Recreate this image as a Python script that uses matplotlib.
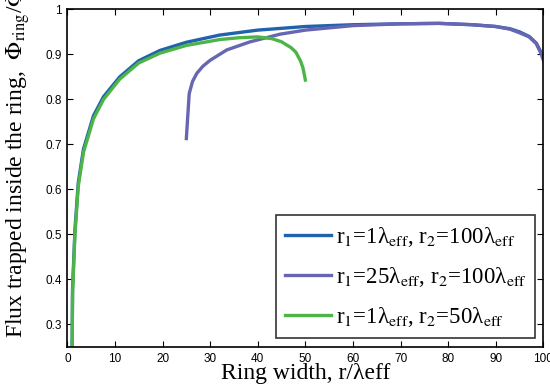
import matplotlib
matplotlib.use("Agg")
import matplotlib.pyplot as plt
from matplotlib.ticker import FuncFormatter

plt.rcParams["mathtext.fontset"] = "stix"
plt.rcParams["font.family"] = ["Liberation Serif", "DejaVu Serif"]

# r1 = 1, r2 = 100
x_blue = [1, 1.1, 1.6, 2.3, 3.4, 5.5, 7.6, 11, 15, 19.5, 25, 32, 40,
          50, 60, 70, 78, 85, 90, 93, 95, 97, 98.5, 99.5, 100]
y_blue = [0.23, 0.38, 0.51, 0.615, 0.69, 0.764, 0.806, 0.85, 0.886, 0.909,
          0.927, 0.943, 0.954, 0.962, 0.966, 0.968, 0.969, 0.966,
          0.962, 0.957, 0.95, 0.94, 0.925, 0.905, 0.89]

# r1 = 25, r2 = 100
x_purple = [25, 25.6, 26.3, 27.2, 28.5, 30, 33.5, 38.4, 44.7, 50, 60, 70, 78,
            85, 90, 93, 95, 97, 98.5, 99.5, 100]
y_purple = [0.713, 0.813, 0.84, 0.858, 0.874, 0.887, 0.91, 0.928, 0.945, 0.954,
            0.964, 0.968, 0.969, 0.966, 0.962, 0.956, 0.948, 0.939, 0.924,
            0.902, 0.887]

# r1 = 1, r2 = 50
x_green = [1, 1.1, 1.6, 2.3, 3.4, 5.5, 7.6, 11, 15, 19.5, 25, 32, 36, 40, 43,
           45, 47, 48, 49, 49.5, 50]
y_green = [0.23, 0.37, 0.50, 0.607, 0.683, 0.757, 0.8, 0.845, 0.881, 0.903,
           0.92, 0.933, 0.937, 0.939, 0.935, 0.928, 0.915, 0.905, 0.885, 0.87,
           0.843]

labels = [r"r$_1$=1λ$_{\rm eff}$, r$_2$=100λ$_{\rm eff}$",
          r"r$_1$=25λ$_{\rm eff}$, r$_2$=100λ$_{\rm eff}$",
          r"r$_1$=1λ$_{\rm eff}$, r$_2$=50λ$_{\rm eff}$"]
colors = ["#2162AF", "#6666B2", "#4DB548"]

fig = plt.figure(figsize=(5.5, 3.92), dpi=100)
ax = fig.add_axes([0.1224, 0.1148, 0.8656, 0.8612])

ax.plot(x_blue, y_blue, color=colors[0], lw=2.4, label=labels[0])
ax.plot(x_purple, y_purple, color=colors[1], lw=2.4, label=labels[1])
ax.plot(x_green, y_green, color=colors[2], lw=2.4, label=labels[2])

ax.set_xlim(0, 100)
ax.set_ylim(0.25, 1)
ax.set_xticks(range(0, 101, 10))
ax.set_yticks([0.3, 0.4, 0.5, 0.6, 0.7, 0.8, 0.9, 1.0])
ax.yaxis.set_major_formatter(FuncFormatter(lambda v, p: "%g" % v))
ax.tick_params(direction="in", length=4, width=0.8, top=True, right=True,
               labelsize=8.5, pad=4)
for lab in ax.get_xticklabels() + ax.get_yticklabels():
    lab.set_family("Liberation Sans")
for s in ax.spines.values():
    s.set_linewidth(1.2)

ax.set_xlabel("Ring width, r/λeff", fontsize=17, labelpad=-1)
ax.set_ylabel(r"Flux trapped inside the ring,  $\Phi_{\rm ring}$/$\Phi_0$",
              fontsize=17)
ax.yaxis.set_label_coords(-0.074, 0.56)

leg = ax.legend(loc="lower right", bbox_to_anchor=(0.983, 0.027), fontsize=16.5,
                frameon=True, fancybox=False, edgecolor="black",
                handlelength=2.0, handletextpad=0.2, borderpad=0.4,
                labelspacing=0.7, borderaxespad=0)
leg.get_frame().set_linewidth(1.2)

fig.savefig("out.png", dpi=100)
